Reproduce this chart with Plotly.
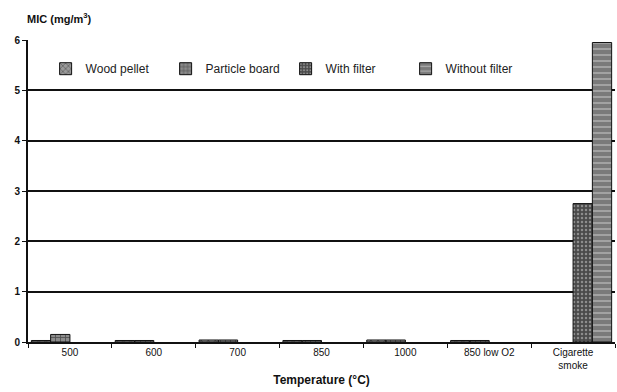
import plotly.graph_objects as go

# MIC measured per combustion temperature / source
categories = ["500", "600", "700", "850", "1000", "850 low O2", "Cigarette<br>smoke"]
wood_pellet = [0.03, 0.03, 0.04, 0.03, 0.04, 0.03, None]
particle_board = [0.15, 0.03, 0.04, 0.03, 0.04, 0.03, None]
with_filter = [None, None, None, None, None, None, 2.75]
without_filter = [None, None, None, None, None, None, 5.95]
y_ticks = [0, 1, 2, 3, 4, 5, 6]

FONT = "Liberation Sans, Arial, sans-serif"

series = [
    ("Wood pellet", wood_pellet, dict(shape="x", bgcolor="#9a9a9a", fgcolor="#111111", size=5, solidity=0.3)),
    ("Particle board", particle_board, dict(shape="+", bgcolor="#8c8c8c", fgcolor="#111111", size=5, solidity=0.3)),
    ("With filter", with_filter, dict(shape=".", bgcolor="#4a4a4a", fgcolor="#cfcfcf", size=4, solidity=0.3)),
    ("Without filter", without_filter, dict(shape="-", bgcolor="#7a7a7a", fgcolor="#e6e6e6", size=6, solidity=0.25)),
]

fig = go.Figure()
for name, vals, pat in series:
    fig.add_trace(go.Bar(
        x=categories, y=vals, name=name,
        marker=dict(color=pat["bgcolor"], line=dict(color="#111111", width=1),
                    pattern=dict(shape=pat["shape"], fgcolor=pat["fgcolor"],
                                 bgcolor=pat["bgcolor"], size=pat["size"],
                                 solidity=pat["solidity"], fillmode="overlay")),
    ))

fig.update_layout(
    width=617, height=392,
    margin=dict(l=28, r=2, t=40, b=50),
    paper_bgcolor="white", plot_bgcolor="white",
    barmode="group", bargap=0.08, bargroupgap=0,
    font=dict(family=FONT, size=10, color="#111111"),
    showlegend=True,
    legend=dict(orientation="h", x=0.03, y=0.905, xanchor="left", yanchor="middle",
                bgcolor="rgba(0,0,0,0)", font=dict(size=12, color="#222222"),
                itemwidth=30, entrywidth=75, entrywidthmode="pixels",
                traceorder="normal"),
    xaxis=dict(
        showline=True, linecolor="#111111", linewidth=2,
        ticks="outside", tickson="boundaries", ticklen=4, tickcolor="#111111",
        tickfont=dict(size=10, color="#111111"),
        title=dict(text="<b>Temperature (°C)</b>", font=dict(size=12), standoff=6),
        showgrid=False,
    ),
    yaxis=dict(
        range=[0, 6], tickvals=y_ticks, ticktext=[f"<b>{t}</b>" for t in y_ticks],
        showline=True, linecolor="#111111", linewidth=2,
        ticks="outside", ticklen=4, tickcolor="#111111",
        showgrid=True, gridcolor="#111111", gridwidth=2,
        tickfont=dict(size=10, color="#111111"),
        zeroline=False,
    ),
)

fig.add_annotation(text="<b>MIC (mg/m<sup>3</sup>)</b>", xref="paper", yref="paper",
                   x=-0.005, y=1.0, yshift=22, xanchor="left", yanchor="middle",
                   showarrow=False, font=dict(size=11, color="#111111"))

fig.write_html("out.html")
